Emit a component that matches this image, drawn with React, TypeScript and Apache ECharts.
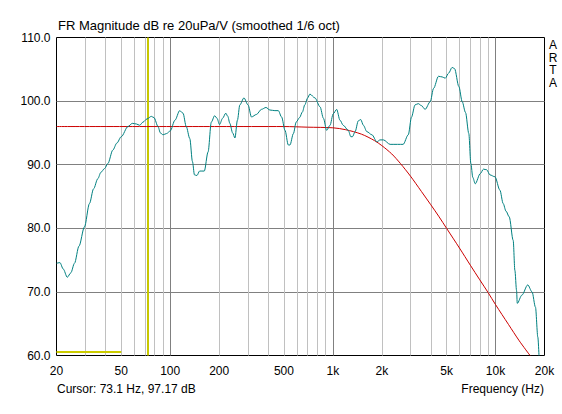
import React, { useEffect, useRef } from "react";
import * as echarts from "echarts";

// Measured frequency response (teal), Hz and dB
const FR_FREQ = [20, 21, 22, 23.3, 24.5, 25.8, 27.5, 29.7, 31.9, 33.8, 35.9, 37.5, 39.5, 41.4, 44.4, 47, 50, 55, 58.5, 62, 64.9, 68.1, 72, 76.6, 79.5, 84.2, 87, 90.4, 95, 100, 107, 114.4, 119.9, 125.5, 132, 137, 141, 146, 151.6, 162, 170.9, 179, 187.6, 194, 201, 210, 219.6, 226, 232.6, 242, 250, 259, 268, 284, 301, 316, 339, 364, 388, 410, 440, 462, 484, 508, 532, 545, 572, 595, 624, 650, 672, 700, 722, 776, 834, 875, 916, 960, 1005, 1055, 1106, 1158, 1244, 1290, 1320, 1370, 1434, 1484, 1540, 1618, 1738, 1866, 1950, 2046, 2248, 2500, 2704, 2908, 3045, 3200, 3350, 3500, 3690, 3968, 4160, 4460, 4700, 4910, 5150, 5410, 5600, 5950, 6240, 6540, 6850, 7050, 7250, 7500, 8060, 8430, 8830, 9240, 9920, 10640, 11140, 11600, 12140, 12840, 13150, 13470, 13600, 14530, 15780, 16770, 17600, 18200, 18500];
const FR_DB = [74.5, 74.6, 73.6, 72.3, 73.0, 74.5, 77.2, 80.2, 83.9, 86.2, 87.8, 88.8, 89.4, 90.2, 92.3, 93.4, 94.4, 96.0, 96.5, 96.4, 96.2, 96.7, 97.2, 97.6, 97.4, 96.0, 95.0, 94.7, 94.9, 95.3, 97.0, 98.5, 98.1, 96.0, 94.1, 90.5, 88.4, 88.3, 89.0, 89.0, 92.0, 96.7, 97.7, 97.3, 96.3, 97.3, 98.1, 97.6, 96.5, 95.0, 94.2, 97.0, 99.4, 100.5, 99.4, 97.5, 97.9, 98.7, 99.0, 98.6, 98.5, 98.5, 97.5, 95.4, 93.1, 93.1, 94.9, 96.7, 97.4, 98.3, 99.4, 100.5, 101.1, 100.5, 99.1, 97.3, 95.4, 96.2, 98.0, 98.7, 97.0, 96.2, 95.4, 94.4, 94.4, 95.2, 96.9, 97.1, 96.2, 95.2, 94.7, 93.6, 93.9, 93.9, 93.2, 93.2, 93.2, 94.7, 97.5, 99.4, 99.6, 99.3, 98.7, 99.9, 102.0, 103.9, 103.8, 103.6, 104.4, 105.3, 105.1, 102.3, 99.9, 98.2, 94.9, 90.2, 88.0, 87.0, 88.6, 89.3, 89.2, 88.4, 88.1, 86.0, 83.9, 82.7, 81.8, 78.1, 73.4, 70.2, 68.2, 69.5, 71.1, 70.0, 67.6, 62.9, 60.0];

// Target / filter curve (red)
const RED_FREQ = [20, 200, 500, 700, 1000, 1200, 1500, 1800, 2000, 2300, 2600, 3000, 3500, 4000, 4500, 5000, 6000, 7000, 8000, 9000, 10000, 12000, 14000, 16300];
const RED_DB = [96.0, 96.0, 96.0, 95.9, 95.8, 95.5, 94.8, 93.8, 93.0, 91.7, 90.2, 88.2, 85.8, 83.7, 81.8, 80.0, 76.9, 74.2, 71.9, 69.9, 68.0, 64.9, 62.3, 60.0];

// Yellow markers
const CURSOR_FREQ = 73.1;
const BAND_FREQ = [20, 50];
const BAND_DB = [60.55, 60.55];

// Axes
const X_TICKS = [20, 50, 100, 200, 500, 1000, 2000, 5000, 10000, 20000];
const X_TICK_LABELS = ["20", "50", "100", "200", "500", "1k", "2k", "5k", "10k", "20k"];
const MINOR_GRID = [30, 40, 50, 60, 70, 80, 90, 200, 300, 400, 500, 600, 700, 800, 900, 2000, 3000, 4000, 5000, 6000, 7000, 8000, 9000];
const MAJOR_GRID = [100, 1000, 10000];
const Y_MIN = 60;
const Y_MAX = 110;
const Y_STEP = 10;

const TITLE = "FR Magnitude dB re 20uPa/V (smoothed 1/6 oct)";
const CURSOR_TEXT = "Cursor: 73.1 Hz, 97.17 dB";
const X_TITLE = "Frequency (Hz)";
const BRAND = ["A", "R", "T", "A"];

const FONT = '"Liberation Sans", Arial, sans-serif';

export default function App() {
  const ref = useRef<HTMLDivElement>(null);

  useEffect(() => {
    if (!ref.current) return;
    const chart = echarts.init(ref.current, null, { renderer: "svg" });

    const pairs = (xs: number[], ys: number[]) => xs.map((x, i) => [x, ys[i]]);

    chart.setOption({
      animation: false,
      backgroundColor: "#ffffff",
      grid: {
        left: 56.5,
        right: 17.5,
        top: 37.5,
        bottom: 58.5,
        show: true,
        backgroundColor: "#ffffff",
        borderColor: "#000000",
        borderWidth: 1,
        z: 0,
      },
      xAxis: {
        type: "log",
        logBase: 10,
        min: 20,
        max: 20000,
        axisLine: { show: false },
        axisTick: { show: false },
        axisLabel: { show: false },
        splitLine: { show: false },
      },
      yAxis: {
        type: "value",
        min: Y_MIN,
        max: Y_MAX,
        interval: Y_STEP,
        axisLine: { show: false },
        axisTick: { show: false },
        axisLabel: {
          formatter: (v: number) => v.toFixed(1),
          color: "#000000",
          fontSize: 12,
          fontFamily: FONT,
          margin: 6,
        },
        splitLine: {
          show: true,
          showMinLine: false,
          showMaxLine: false,
          lineStyle: { color: "#808080", width: 1 },
        },
      },
      series: [
        {
          type: "line",
          name: "grid",
          data: [[20, 60]],
          symbol: "none",
          lineStyle: { opacity: 0 },
          silent: true,
          z: 1,
          markLine: {
            silent: true,
            z: 1,
            symbol: ["none", "none"],
            label: { show: false },
            emphasis: { disabled: true },
            data: [
              ...MINOR_GRID.map((f) => ({ xAxis: f, lineStyle: { color: "#c0c0c0", width: 1, type: "solid" } })),
              ...MAJOR_GRID.map((f) => ({ xAxis: f, lineStyle: { color: "#808080", width: 1, type: "solid" } })),
            ],
          },
        },
        {
          type: "line",
          name: "band",
          data: pairs(BAND_FREQ, BAND_DB),
          symbol: "none",
          lineStyle: { color: "#cccc00", width: 2 },
          silent: true,
          z: 3,
          markLine: {
            silent: true,
            z: 3,
            symbol: ["none", "none"],
            label: { show: false },
            emphasis: { disabled: true },
            data: [{ xAxis: CURSOR_FREQ, lineStyle: { color: "#c8c800", width: 2, type: "solid" } }],
          },
        },
        {
          type: "line",
          name: "target",
          data: pairs(RED_FREQ, RED_DB),
          symbol: "none",
          smooth: 0.3,
          lineStyle: { color: "#cc0000", width: 1 },
          silent: true,
          z: 10,
        },
        {
          type: "line",
          name: "fr",
          data: pairs(FR_FREQ, FR_DB),
          symbol: "none",
          smooth: 0.3,
          smoothMonotone: "x",
          lineStyle: { color: "#008080", width: 1 },
          silent: true,
          z: 11,
        },
      ],
    });

    const bottomPx = chart.convertToPixel({ gridIndex: 0 }, [20, Y_MIN])[1];
    const graphics: any[] = X_TICKS.map((f, i) => {
      const px = chart.convertToPixel({ gridIndex: 0 }, [f, Y_MIN])[0];
      return {
        type: "text",
        x: px,
        y: bottomPx + 15,
        silent: true,
        style: {
          text: X_TICK_LABELS[i],
          align: "center",
          verticalAlign: "middle",
          font: `12px ${FONT}`,
          fill: "#000000",
        },
      };
    });
    graphics.push({
      type: "text",
      x: 58,
      y: 25.5,
      silent: true,
      style: { text: TITLE, align: "left", verticalAlign: "middle", font: `13px ${FONT}`, fill: "#000000" },
    });
    graphics.push({
      type: "text",
      x: 57,
      y: 389,
      silent: true,
      style: { text: CURSOR_TEXT, align: "left", verticalAlign: "middle", font: `12px ${FONT}`, fill: "#000000" },
    });
    graphics.push({
      type: "text",
      x: 544,
      y: 389,
      silent: true,
      style: { text: X_TITLE, align: "right", verticalAlign: "middle", font: `12px ${FONT}`, fill: "#000000" },
    });
    BRAND.forEach((ch, i) => {
      graphics.push({
        type: "text",
        x: 553,
        y: 45 + i * 12.5,
        silent: true,
        style: { text: ch, align: "center", verticalAlign: "middle", font: `12px ${FONT}`, fill: "#000000" },
      });
    });
    chart.setOption({ graphic: graphics });

    return () => chart.dispose();
  }, []);

  return (
    <div
      ref={ref}
      style={{ position: "fixed", left: 0, top: 0, width: 562, height: 414, background: "#ffffff" }}
    />
  );
}
